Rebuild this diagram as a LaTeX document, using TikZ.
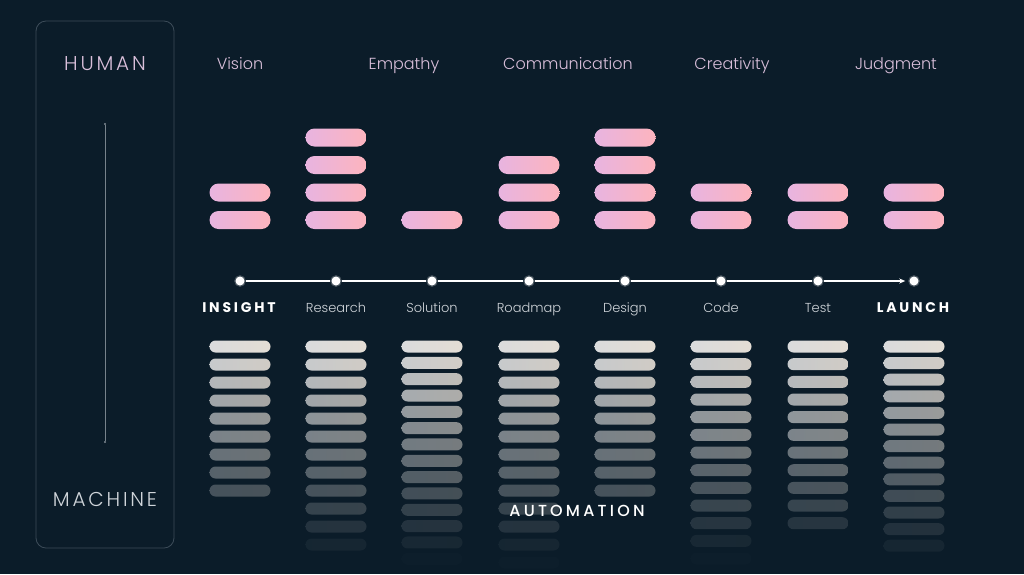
\documentclass[tikz,border=0pt]{standalone}
\usepackage{fontspec}
\setmainfont{Poppins}
\IfFontExistsTF{Poppins Light}{%
  \newfontfamily\thinfont{Poppins Light}
  \newfontfamily\widefont[LetterSpace=14]{Poppins Light}}{%
  \newfontfamily\thinfont{Poppins}
  \newfontfamily\widefont[LetterSpace=14]{Poppins}}
\IfFontExistsTF{Poppins Medium}{%
  \newfontfamily\midfont[LetterSpace=20]{Poppins Medium}}{%
  \newfontfamily\midfont[LetterSpace=20]{Poppins}}
\newfontfamily\capsfont[LetterSpace=20]{Poppins}
\usetikzlibrary{arrows.meta}

\definecolor{navy}{HTML}{0B1C29}
\definecolor{pinkL}{HTML}{E8B4E0}
\definecolor{pinkR}{HTML}{FDB4BE}
\definecolor{barL}{HTML}{DCDDDE}
\definecolor{barR}{HTML}{E6DFD6}
\definecolor{lavtext}{HTML}{D9BFDA}
\definecolor{steptext}{HTML}{D0D5DA}
\definecolor{framec}{HTML}{3D4C59}

\tikzset{
  pinkbar/.style={rounded corners=9pt, left color=pinkL, right color=pinkR},
  dot/.style={circle, fill=white, draw=white, draw opacity=0.25, line width=2.5pt, inner sep=0pt, minimum size=9pt},
  steplabel/.style={anchor=base, text=steptext, font=\thinfont\fontsize{13}{15}\selectfont},
  milestone/.style={anchor=base, text=white, font=\capsfont\bfseries\fontsize{14}{16}\selectfont},
  skill/.style={anchor=base, text=lavtext, font=\thinfont\fontsize{16}{19}\selectfont},
}

\begin{document}
\begin{tikzpicture}[x=1pt,y=-1pt]
		\useasboundingbox (0,0) rectangle (1024,574);
		\fill[navy] (0,0) rectangle (1024,574);
		
		% human / machine scale
		\node[draw=framec, rounded corners=10pt, line width=0.8pt, minimum width=138pt, minimum height=527pt] (panel) at (105,284.5) {};
		\node[anchor=base, text=lavtext, font=\widefont\fontsize{20}{22}\selectfont] (human) at (105,70) {HUMAN};
		\node[anchor=base, text=steptext, font=\widefont\fontsize{20}{22}\selectfont] (machine) at (105,506) {MACHINE};
		\coordinate (scaletop) at (105,123);
		\coordinate (scalebot) at (105,443);
		\draw[framec!70!white, line width=0.6pt, {Circle[length=2pt]}-{Circle[length=2pt]}] (scaletop) -- (scalebot);
		
		% skills
		\node[skill] (vision) at (240,69) {Vision};
		\node[skill] (empathy) at (404,69) {Empathy};
		\node[skill] (communication) at (568,69) {Communication};
		\node[skill] (creativity) at (732,69) {Creativity};
		\node[skill] (judgment) at (896,69) {Judgment};
		
		% human bars
		\foreach \x/\n in {240/2, 336/4, 432/1, 529/3, 625/4, 721/2, 818/2, 914/2}{
			\foreach \k in {1,...,\n}{
				\pgfmathsetmacro\yc{220-(\k-1)*27.5}
				\shade[pinkbar] (\x-30.5,\yc-9) rectangle (\x+30.5,\yc+9);
			}
		}
		
		% machine bars
		\foreach \x/\n/\dy in {240/9/18, 336/12/18, 432/14/16.33, 529/13/18, 625/9/18, 721/13/17.67, 818/11/17.67, 914/13/16.6}{
			\foreach \k in {1,...,\n}{
				\pgfmathsetmacro\yc{346.5+(\k-1)*\dy}
				\pgfmathtruncatemacro\p{100*(max(0.02,1-(\yc-346)/216))^1.15}
				\shade[rounded corners=6pt, left color=barL!\p!navy, right color=barR!\p!navy] (\x-30.5,\yc-6) rectangle (\x+30.5,\yc+6);
			}
		}
		
		% timeline
		\node[dot] (d1) at (240,281) {};
		\node[dot] (d2) at (336,281) {};
		\node[dot] (d3) at (432,281) {};
		\node[dot] (d4) at (529,281) {};
		\node[dot] (d5) at (625,281) {};
		\node[dot] (d6) at (721,281) {};
		\node[dot] (d7) at (818,281) {};
		\node[dot] (d8) at (914,281) {};
		\draw[white, line width=1.2pt] (d1) -- (d2) -- (d3) -- (d4) -- (d5) -- (d6) -- (d7);
		\draw[white, line width=1.2pt, -{Stealth[length=6pt,width=5pt]}, shorten >=3pt] (d7) -- (d8);
		
		\node[milestone] (insight) at (239,312) {INSIGHT};
		\node[steplabel] (research) at (336,312) {Research};
		\node[steplabel] (solution) at (432,312) {Solution};
		\node[steplabel] (roadmap) at (529,312) {Roadmap};
		\node[steplabel] (design) at (625,312) {Design};
		\node[steplabel] (code) at (721,312) {Code};
		\node[steplabel] (test) at (818,312) {Test};
		\node[milestone] (launch) at (913,312) {LAUNCH};
		
		\node[anchor=base, text=white, font=\midfont\fontsize{16}{18}\selectfont] (automation) at (577,516) {AUTOMATION};
	\end{tikzpicture}
\end{document}
